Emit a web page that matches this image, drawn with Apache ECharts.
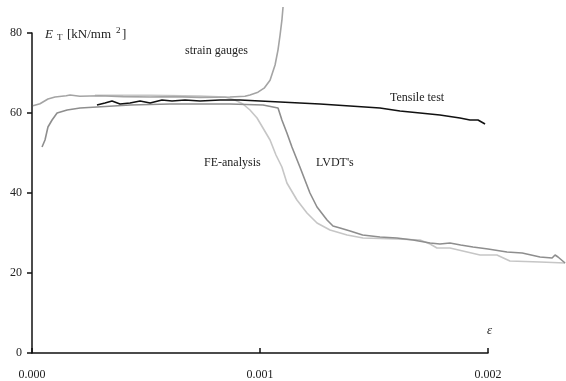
<!DOCTYPE html>
<html>
<head>
<meta charset="utf-8">
<script src="https://cdn.jsdelivr.net/npm/echarts@6/dist/echarts.min.js"></script>
<style>
  html, body { margin: 0; padding: 0; background: #fff; }
  #chart { width: 566px; height: 381px; }
</style>
</head>
<body>
<div id="chart"></div>
<script>
// Strain values (ε) and tangent modulus E_T [kN/mm²] for each measurement
const strainGaugesEps = [0.0000044, 0.000035, 0.000070, 0.000101, 0.000150, 0.000167, 0.000210, 0.000298, 0.000400, 0.000518, 0.000620, 0.000737, 0.000868, 0.000934, 0.000956, 0.000991, 0.001018, 0.001044, 0.001066, 0.001079, 0.001088, 0.001096, 0.001101];
const strainGaugesE   = [61.8, 62.3, 63.5, 64.0, 64.3, 64.5, 64.2, 64.3, 64.1, 64.0, 64.1, 63.9, 64.0, 64.2, 64.5, 65.2, 66.2, 68.2, 72.0, 75.8, 79.5, 83.2, 86.5];

const tensileEps = [0.000285, 0.000320, 0.000351, 0.000386, 0.000430, 0.000474, 0.000518, 0.000570, 0.000614, 0.000671, 0.000737, 0.000825, 0.000912, 0.001000, 0.001088, 0.001175, 0.001263, 0.001395, 0.001526, 0.001614, 0.001702, 0.001789, 0.001877, 0.001921, 0.001956, 0.001987];
const tensileE   = [62.0, 62.5, 63.0, 62.25, 62.5, 63.0, 62.5, 63.25, 63.0, 63.25, 63.0, 63.25, 63.25, 63.0, 62.75, 62.5, 62.25, 61.75, 61.25, 60.5, 60.0, 59.5, 58.75, 58.25, 58.25, 57.25];

const lvdtEps = [0.000044, 0.000057, 0.000070, 0.000088, 0.000110, 0.000154, 0.000211, 0.000285, 0.000430, 0.000605, 0.000737, 0.000868, 0.001013, 0.001057, 0.001079, 0.001096, 0.001118, 0.001140, 0.001175, 0.001197, 0.001219, 0.001250, 0.001294, 0.001320, 0.001351, 0.001395, 0.001450, 0.001526, 0.001600, 0.001671, 0.001746, 0.001789, 0.001833, 0.001880, 0.001934, 0.002000, 0.002083, 0.002150, 0.002228, 0.002281, 0.002294, 0.002307, 0.002338];
const lvdtE   = [51.5, 53.25, 56.5, 58.25, 60.0, 60.75, 61.25, 61.5, 62.0, 62.25, 62.25, 62.25, 62.0, 61.5, 61.25, 58.25, 55.0, 51.5, 46.5, 43.25, 40.0, 36.5, 33.25, 31.75, 31.25, 30.5, 29.5, 29.0, 28.75, 28.25, 27.5, 27.25, 27.5, 27.0, 26.5, 26.0, 25.25, 25.0, 24.0, 23.75, 24.5, 24.0, 22.5];

const feEps = [0.000276, 0.000518, 0.000737, 0.000846, 0.000890, 0.000925, 0.000956, 0.000987, 0.001013, 0.001044, 0.001070, 0.001096, 0.001118, 0.001162, 0.001206, 0.001250, 0.001307, 0.001382, 0.001452, 0.001601, 0.001702, 0.001746, 0.001776, 0.001833, 0.001965, 0.002039, 0.002096, 0.002228, 0.002338];
const feE   = [64.4, 64.4, 64.25, 64.0, 63.25, 62.25, 60.75, 58.75, 56.25, 53.25, 49.5, 46.5, 42.5, 38.25, 35.0, 32.5, 30.75, 29.5, 28.75, 28.5, 28.25, 27.25, 26.25, 26.25, 24.5, 24.5, 23.0, 22.75, 22.5];

const xTicks = [0, 0.001, 0.002];
const yTicks = [0, 20, 40, 60, 80];
// curves continue past the last labelled strain, up to this value
const plotEpsMax = 0.002342;

const serif = '"Liberation Serif", "DejaVu Serif", serif';

function pairs(xs, ys) { return xs.map((x, i) => [x, ys[i]]); }

function lineSeries(name, xs, ys, color, z) {
  return {
    name, type: 'line', data: pairs(xs, ys),
    xAxisIndex: 1, yAxisIndex: 1,
    showSymbol: false, symbol: 'none', clip: false, z,
    lineStyle: { color, width: 1.6 },
    emphasis: { disabled: true }
  };
}

const chart = echarts.init(document.getElementById('chart'), null, { renderer: 'canvas' });
chart.setOption({
  animation: false,
  backgroundColor: '#fff',
  grid: [
    // visible axes
    { left: 32, right: 78, top: 33, bottom: 28, containLabel: false },
    // plotting area for the curves, extended to the right edge
    { left: 32, right: 0, top: 33, bottom: 28, containLabel: false }
  ],
  xAxis: [{
    gridIndex: 0, type: 'value', min: xTicks[0], max: xTicks[xTicks.length - 1], interval: 0.001,
    axisLine: { lineStyle: { color: '#111', width: 1.5 } },
    axisTick: { inside: true, length: 5, lineStyle: { color: '#111', width: 1.5 } },
    axisLabel: { margin: 16, color: '#222', fontFamily: serif, fontSize: 12,
                 formatter: v => v.toFixed(3) },
    splitLine: { show: false }
  }, {
    gridIndex: 1, type: 'value', min: 0, max: plotEpsMax, show: false,
    splitLine: { show: false }
  }],
  yAxis: [{
    gridIndex: 0, type: 'value', min: yTicks[0], max: yTicks[yTicks.length - 1], interval: 20,
    axisLine: { show: true, lineStyle: { color: '#111', width: 1.5 } },
    axisTick: { show: true, inside: false, length: 5, lineStyle: { color: '#111', width: 1.5 } },
    axisLabel: { margin: 10, color: '#222', fontFamily: serif, fontSize: 12 },
    splitLine: { show: false }
  }, {
    gridIndex: 1, type: 'value', min: yTicks[0], max: yTicks[yTicks.length - 1], show: false,
    splitLine: { show: false }
  }],
  series: [
    lineSeries('FE-analysis', feEps, feE, '#c6c6c6', 2),
    lineSeries('strain gauges', strainGaugesEps, strainGaugesE, '#a4a4a4', 3),
    lineSeries("LVDT's", lvdtEps, lvdtE, '#8e8e8e', 4),
    lineSeries('Tensile test', tensileEps, tensileE, '#111111', 5)
  ],
  graphic: [
    { type: 'text', left: 45, top: 28, style: { text: 'E', font: 'italic 13px ' + serif, fill: '#222' } },
    { type: 'text', left: 57, top: 33, style: { text: 'T', font: '9px ' + serif, fill: '#222' } },
    { type: 'text', left: 67, top: 28, style: { text: '[kN/mm', font: '13px ' + serif, fill: '#222' } },
    { type: 'text', left: 116, top: 26, style: { text: '2', font: '9px ' + serif, fill: '#222' } },
    { type: 'text', left: 122, top: 28, style: { text: ']', font: '13px ' + serif, fill: '#222' } },
    { type: 'text', left: 185, top: 45, style: { text: 'strain gauges', font: '12px ' + serif, fill: '#222' } },
    { type: 'text', left: 390, top: 92, style: { text: 'Tensile test', font: '12px ' + serif, fill: '#222' } },
    { type: 'text', left: 204, top: 157, style: { text: 'FE-analysis', font: '12px ' + serif, fill: '#222' } },
    { type: 'text', left: 316, top: 157, style: { text: "LVDT's", font: '12px ' + serif, fill: '#222' } },
    { type: 'text', left: 487, top: 324, style: { text: 'ε', font: 'italic 13px ' + serif, fill: '#222' } }
  ]
});
</script>
</body>
</html>
